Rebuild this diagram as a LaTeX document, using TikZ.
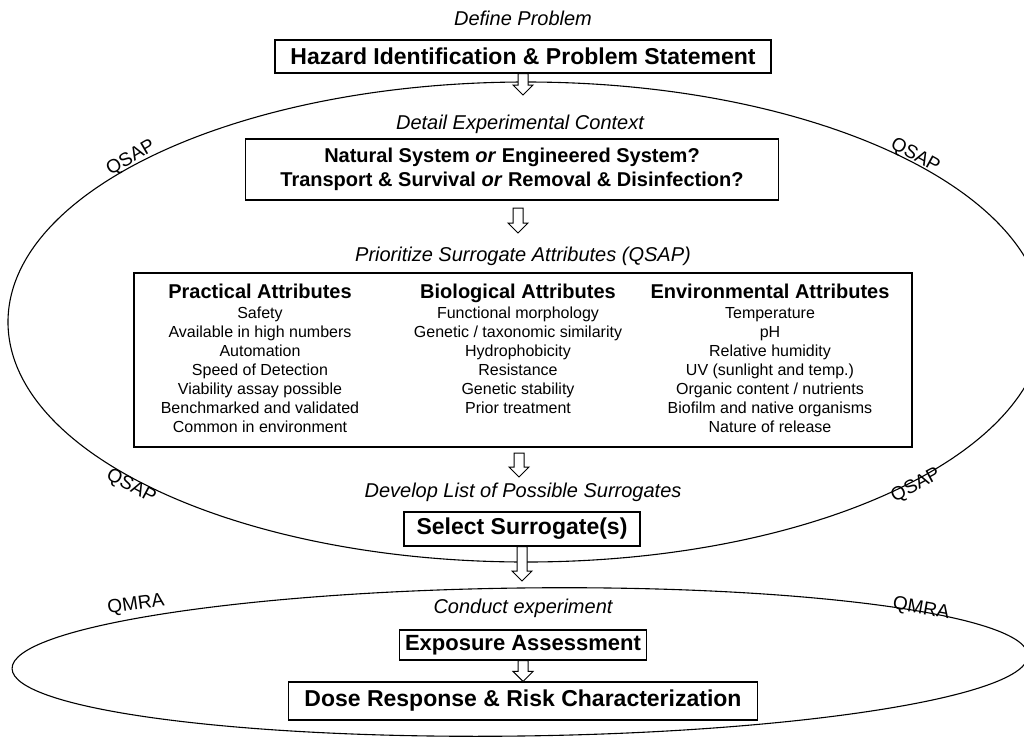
\documentclass[tikz,border=0pt]{standalone}
\usepackage{fontspec}
\setmainfont{Liberation Sans}
\usetikzlibrary{calc}
\tikzset{
  mainbox/.style={draw, line width=1.1pt, fill=white, inner sep=0pt,
    font=\bfseries\fontsize{23}{27}\selectfont},
  stage/.style={font=\itshape\fontsize{20}{24}\selectfont},
  tag/.style={font=\fontsize{19}{22}\selectfont},
  head/.style={anchor=base, font=\bfseries\fontsize{20}{24}\selectfont},
  item/.style={anchor=base, font=\fontsize{16}{19}\selectfont},
  hollow/.style={draw, fill=white, line width=1pt, to path={
    let \p1=(\tikztostart), \p2=(\tikztotarget) in
    (\x1-5pt,\y1) -- (\x1-5pt,\y2+10pt) -- (\x1-10pt,\y2+10pt) -- (\x1,\y2)
    -- (\x1+10pt,\y2+10pt) -- (\x1+5pt,\y2+10pt) -- (\x1+5pt,\y1) -- cycle}}
}
\begin{document}
\begin{tikzpicture}[x=1pt, y=-1pt, line width=1.1pt]
  \useasboundingbox (0,0) rectangle (1024,745);
  % QSAP and QMRA loops
  \draw (526,322) ellipse [x radius=518, y radius=240];
  \draw (520,662) ellipse [x radius=508, y radius=74, rotate=0.74];
  \node[tag, rotate=30] (qsap-nw) at (131,158) {QSAP};
  \node[tag, rotate=-29] (qsap-ne) at (915,156) {QSAP};
  \node[tag, rotate=-28] (qsap-sw) at (131,487) {QSAP};
  \node[tag, rotate=28] (qsap-se) at (916,486) {QSAP};
  \node[tag, rotate=8] (qmra-w) at (136,605) {QMRA};
  \node[tag, rotate=-10] (qmra-e) at (921,609) {QMRA};

  % stages
  \node[stage] (problem) at (523,18) {Define Problem};
  \node[mainbox, minimum width=496, minimum height=33] (hazard) at (523,56.5)
    {Hazard Identification \& Problem Statement};
  \node[stage] (context) at (520,124) {Detail Experimental Context};
  \node[mainbox, minimum width=533, minimum height=61, align=center,
    font=\bfseries\fontsize{20}{24}\selectfont] (system) at (512,169.5)
    {Natural System \textit{or} Engineered System?\\
     Transport \& Survival \textit{or} Removal \& Disinfection?};
  \node[stage] (prioritize) at (523,256) {Prioritize Surrogate Attributes (QSAP)};
  \node[draw, minimum width=778, minimum height=174, inner sep=0pt] (attributes) at (523,360) {};

  % attribute columns
  \node[head] (practical) at (260,298) {Practical Attributes};
  \foreach \txt [count=\i] in {Safety, Available in high numbers, Automation,
      Speed of Detection, Viability assay possible, Benchmarked and validated,
      Common in environment}
    \node[item] (practical-\i) at (260,299+19*\i) {\txt};
  \node[head] (biological) at (518,298) {Biological Attributes};
  \foreach \txt [count=\i] in {Functional morphology, Genetic / taxonomic similarity,
      Hydrophobicity, Resistance, Genetic stability, Prior treatment}
    \node[item] (biological-\i) at (518,299+19*\i) {\txt};
  \node[head] (environmental) at (770,298) {Environmental Attributes};
  \foreach \txt [count=\i] in {Temperature, pH, Relative humidity,
      UV (sunlight and temp.), Organic content / nutrients,
      Biofilm and native organisms, Nature of release}
    \node[item] (environmental-\i) at (770,299+19*\i) {\txt};

  \node[stage] (develop) at (523,492) {Develop List of Possible Surrogates};
  \node[mainbox, minimum width=236, minimum height=34] (select) at (522,529) {Select Surrogate(s)};
  \node[stage] (conduct) at (523,608) {Conduct experiment};
  \node[mainbox, minimum width=247, minimum height=30, font=\bfseries\fontsize{22}{26}\selectfont]
    (exposure) at (523,645) {Exposure Assessment};
  \node[mainbox, minimum width=469, minimum height=38] (dose) at (523,701)
    {Dose Response \& Risk Characterization};

  % hollow arrows
  \coordinate (tip1) at (523,95);
  \coordinate (top2) at (518,208);
  \coordinate (tip2) at (518,233);
  \coordinate (top3) at (519,453);
  \coordinate (tip3) at (519,477);
  \coordinate (tip4) at (522,581);
  \draw[hollow] (hazard.south) to (tip1);
  \draw[hollow] (top2) to (tip2);
  \draw[hollow] (top3) to (tip3);
  \draw[hollow] (select.south) to (tip4);
  \draw[hollow] (exposure.south) to (dose.north);
\end{tikzpicture}
\end{document}
